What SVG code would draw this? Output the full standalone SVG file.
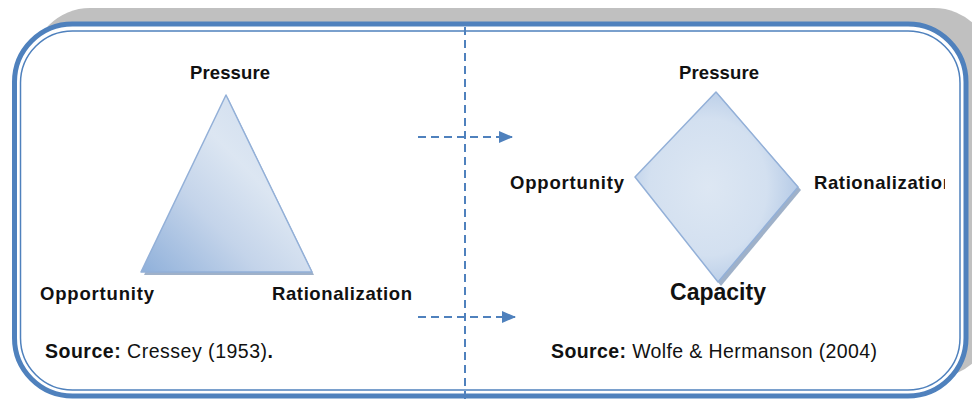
<svg xmlns="http://www.w3.org/2000/svg" width="972" height="399" viewBox="0 0 972 399">
  <style>
    .lbl { font-family: "Liberation Sans", Arial, sans-serif; font-weight: bold; font-size: 18.5px; fill: #111; }
    .cap { font-family: "Liberation Sans", Arial, sans-serif; font-weight: bold; font-size: 23px; fill: #111; }
    .src { font-family: "Liberation Sans", Arial, sans-serif; font-size: 19.5px; fill: #111; }
    .src .b { font-weight: bold; }
    .dash { stroke: #4f81bd; stroke-width: 2; stroke-dasharray: 8 5; fill: none; }
    .shape { stroke: #93b0d8; stroke-width: 1.5; stroke-linejoin: round; }
    .shadow { fill: #8ea3c0; opacity: 0.85; }
  </style>
  <defs>
    <linearGradient id="triFill" x1="0" y1="1" x2="1" y2="0">
      <stop offset="0" stop-color="#8fb0da"/>
      <stop offset="0.35" stop-color="#c4d4ea"/>
      <stop offset="0.6" stop-color="#dce6f2"/>
      <stop offset="1" stop-color="#c9d8ec"/>
    </linearGradient>
    <radialGradient id="diaFill" cx="0.45" cy="0.5" r="0.6">
      <stop offset="0" stop-color="#dde7f3"/>
      <stop offset="0.6" stop-color="#d3e0f0"/>
      <stop offset="1" stop-color="#aec5e4"/>
    </radialGradient>
    <marker id="arrowHead" viewBox="0 0 14 12" refX="13" refY="6" markerWidth="14" markerHeight="12" markerUnits="userSpaceOnUse" orient="auto">
      <path d="M0,0 L14,6 L0,12 z" fill="#4f81bd"/>
    </marker>
    <clipPath id="rightClip">
      <rect x="600" y="160" width="345" height="40"/>
    </clipPath>
  </defs>

  <!-- frame: gray back panel, thick blue border and thin inner line -->
  <g id="frame">
    <rect x="32" y="8" width="960" height="370" rx="58" ry="58" fill="#c0c0c0"/>
    <rect x="14.5" y="24" width="951.5" height="372" rx="58" ry="58" fill="#ffffff" stroke="#4f81bd" stroke-width="5"/>
    <rect x="20.5" y="31" width="939.5" height="359" rx="52" ry="52" fill="none" stroke="#4f81bd" stroke-width="1.5"/>
  </g>

  <!-- connectors -->
  <g id="connectors">
    <line class="dash" x1="465" y1="27" x2="465" y2="399"/>
    <line class="dash" x1="418" y1="137" x2="512" y2="137" marker-end="url(#arrowHead)"/>
    <line class="dash" x1="418" y1="317" x2="515" y2="317" marker-end="url(#arrowHead)"/>
  </g>

  <!-- left model: fraud triangle -->
  <g id="triangle">
    <polygon class="shadow" points="228,98 314,275 144,275"/>
    <polygon class="shape" fill="url(#triFill)" points="226,95 312,272 141,272"/>
  </g>
  <g id="left-pressure"><text class="lbl" x="230" y="79" text-anchor="middle" textLength="80">Pressure</text></g>
  <g id="left-opportunity"><text class="lbl" x="40" y="300" textLength="114">Opportunity</text></g>
  <g id="left-rationalization"><text class="lbl" x="272" y="300" textLength="140">Rationalization</text></g>
  <g id="left-source">
    <text class="src" x="45" y="358" textLength="228"><tspan class="b">Source:</tspan> Cressey (1953)<tspan class="b">.</tspan></text>
  </g>

  <!-- right model: fraud diamond -->
  <g id="diamond">
    <polygon class="shadow" points="719,95 801,190 721,286 638,180"/>
    <polygon class="shape" fill="url(#diaFill)" points="716,92 798,187 718,282 635,177"/>
  </g>
  <g id="right-pressure"><text class="lbl" x="719" y="79" text-anchor="middle" textLength="80">Pressure</text></g>
  <g id="right-opportunity"><text class="lbl" x="510" y="189" textLength="114">Opportunity</text></g>
  <g id="right-rationalization" clip-path="url(#rightClip)"><text class="lbl" x="814" y="189" textLength="140">Rationalization</text></g>
  <g id="right-capacity"><text class="cap" x="718" y="300" text-anchor="middle" textLength="96">Capacity</text></g>
  <g id="right-source">
    <text class="src" x="551" y="358" textLength="326"><tspan class="b">Source:</tspan> Wolfe &amp; Hermanson (2004)</text>
  </g>
</svg>
